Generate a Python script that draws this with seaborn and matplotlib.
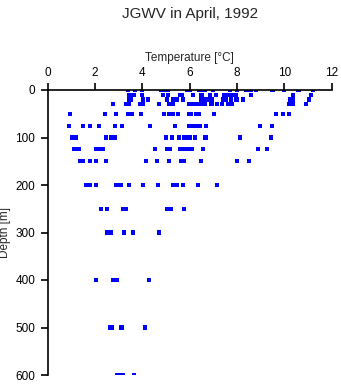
import matplotlib
matplotlib.use("Agg")
import matplotlib.pyplot as plt
import seaborn as sns
import pandas as pd

# Temperature readings (°C) at each sampling depth (m)
depths = [0, 10, 20, 30, 50, 75, 100, 125, 150, 200, 250, 300, 400, 500, 600]
temps = {
    0: [3.4, 3.7, 4.0, 4.8, 4.9, 5.1, 5.9, 6.0, 6.4, 6.5, 6.65, 7.0, 7.7, 8.0, 8.4, 8.5, 8.6, 8.8, 9.5, 10.0, 10.6, 11.2],
    10: [3.45, 3.55, 3.65, 4.0, 4.88, 5.07, 5.6, 5.66, 6.15, 6.5, 6.86, 7.11, 7.45, 7.55, 7.65, 7.8, 7.95, 8.6, 10.38, 11.12],
    20: [3.42, 3.52, 4.04, 4.25, 5.03, 5.31, 5.48, 5.73, 6.5, 6.6, 6.7, 6.8, 6.95, 7.42, 7.55, 7.75, 7.98, 8.26, 10.25, 10.35, 11.05],
    30: [2.77, 3.3, 3.45, 3.9, 4.04, 4.71, 5.15, 5.3, 5.97, 6.15, 6.27, 6.4, 6.55, 6.65, 6.92, 7.15, 7.38, 7.63, 7.8, 10.2, 10.35, 10.9],
    50: [0.95, 2.43, 2.89, 3.41, 3.55, 3.95, 4.93, 5.14, 5.31, 5.52, 5.98, 6.04, 6.25, 6.4, 7.04, 9.63, 9.95, 10.18],
    75: [0.91, 1.5, 1.8, 2.18, 2.86, 3.15, 4.32, 5.39, 5.98, 6.05, 6.15, 6.25, 6.35, 6.43, 6.69, 8.98, 9.49],
    100: [1.01, 1.21, 2.45, 2.66, 2.75, 2.84, 5.0, 5.25, 5.56, 5.77, 5.85, 5.91, 6.01, 6.22, 6.67, 8.14, 9.42],
    125: [1.1, 1.2, 1.3, 2.04, 2.21, 2.32, 4.55, 5.05, 5.15, 5.6, 5.7, 5.8, 5.9, 6.0, 6.08, 6.57, 8.9, 9.25],
    150: [1.38, 1.48, 1.8, 2.05, 2.48, 4.17, 4.63, 5.14, 5.65, 5.75, 6.49, 8.01, 8.52],
    200: [1.61, 1.8, 2.05, 2.9, 3.0, 3.08, 3.45, 4.04, 4.67, 5.31, 5.48, 5.7, 6.36, 7.14],
    250: [2.26, 2.52, 3.2, 3.3, 5.03, 5.21, 5.77],
    300: [2.5, 2.58, 2.66, 3.24, 3.59, 4.71],
    400: [2.04, 2.77, 2.93, 4.29],
    500: [2.62, 2.7, 3.08, 3.14, 4.12],
    600: [2.92, 3.0, 3.08, 3.16, 3.66],
}
x_ticks = [0, 2, 4, 6, 8, 10, 12]
y_ticks = [0, 100, 200, 300, 400, 500, 600]

rows = [(t, d) for d in depths for t in temps[d]]
df = pd.DataFrame(rows, columns=["Temperature", "Depth"])

sns.set_style("white")
plt.rcParams["font.family"] = ["Liberation Sans", "DejaVu Sans"]

W, H = 341, 384
fig = plt.figure(figsize=(W / 100, H / 100), dpi=100)
ax = fig.add_axes([47.7 / W, 1 - 375 / H, (331.7 - 47.7) / W, (375 - 90) / H])

sns.scatterplot(data=df, x="Temperature", y="Depth", ax=ax, marker="s",
                s=9, color="#0000ff", edgecolor="none", linewidth=0, legend=False)

ax.set_xlim(0, 12)
ax.set_ylim(600, 0)
ax.set_xticks(x_ticks)
ax.set_yticks(y_ticks)
ax.xaxis.tick_top()
ax.xaxis.set_label_position("top")
for s in ["bottom", "right"]:
    ax.spines[s].set_visible(False)
for s in ["top", "left"]:
    ax.spines[s].set_color("black")
    ax.spines[s].set_linewidth(1.2)
ax.tick_params(axis="both", which="major", length=5, width=1.2, color="black",
               labelsize=8.5, labelcolor="black", pad=3)
ax.tick_params(axis="x", top=True, bottom=False)
ax.tick_params(axis="y", left=True, pad=4)
ax.set_xlabel("Temperature [°C]", fontsize=8.5, labelpad=4)
ax.set_ylabel("Depth [m]", fontsize=8.5)
ax.yaxis.set_label_coords((11 - 47.7) / 284, 0.5)
ax.patch.set_alpha(0)

fig.text(189.7 / W, 1 - 14 / H, "JGWV in April, 1992", ha="center", va="center", fontsize=11)

fig.savefig("out.png", dpi=100)
